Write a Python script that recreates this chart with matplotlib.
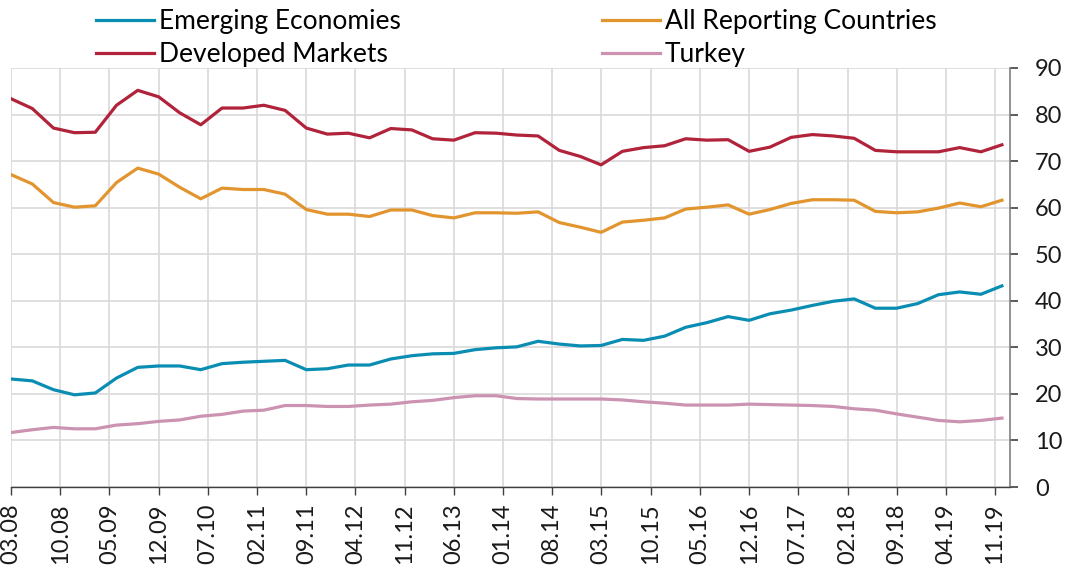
import matplotlib
matplotlib.use("Agg")
import matplotlib.pyplot as plt
import matplotlib.dates as mdates
import numpy as np
import pandas as pd

## Quarterly shares, 03.08 - 12.19
quarters = pd.date_range("2008-03-01", periods=48, freq="3MS")

emerging = [23.2, 22.8, 20.9, 19.8, 20.2, 23.4, 25.7, 26.0, 26.0, 25.2, 26.5, 26.8,
            27.0, 27.2, 25.2, 25.4, 26.2, 26.2, 27.5, 28.2, 28.6, 28.7, 29.5, 29.9,
            30.1, 31.3, 30.7, 30.3, 30.4, 31.7, 31.5, 32.4, 34.3, 35.3, 36.6, 35.8,
            37.2, 38.0, 39.0, 39.9, 40.4, 38.4, 38.4, 39.4, 41.3, 41.9, 41.4, 43.2]

all_reporting = [67.1, 65.1, 61.1, 60.1, 60.4, 65.4, 68.5, 67.2, 64.4, 61.9, 64.2, 63.9,
                 63.9, 62.9, 59.6, 58.6, 58.6, 58.1, 59.5, 59.5, 58.3, 57.8, 58.9, 58.9,
                 58.8, 59.1, 56.8, 55.8, 54.7, 56.9, 57.3, 57.8, 59.7, 60.1, 60.6, 58.6,
                 59.6, 60.9, 61.7, 61.7, 61.6, 59.2, 58.9, 59.1, 59.9, 61.0, 60.2, 61.6]

developed = [83.4, 81.3, 77.1, 76.1, 76.2, 82.0, 85.2, 83.8, 80.4, 77.8, 81.4, 81.4,
             82.0, 80.9, 77.1, 75.8, 76.0, 75.0, 77.0, 76.7, 74.8, 74.5, 76.1, 76.0,
             75.6, 75.4, 72.3, 71.0, 69.2, 72.1, 72.9, 73.3, 74.8, 74.5, 74.6, 72.1,
             73.0, 75.1, 75.7, 75.4, 74.9, 72.3, 72.0, 72.0, 72.0, 72.9, 72.0, 73.5]

turkey = [11.7, 12.3, 12.8, 12.5, 12.5, 13.3, 13.6, 14.1, 14.4, 15.2, 15.6, 16.3,
          16.5, 17.5, 17.5, 17.3, 17.3, 17.6, 17.8, 18.3, 18.6, 19.2, 19.6, 19.6,
          19.0, 18.9, 18.9, 18.9, 18.9, 18.7, 18.3, 18.0, 17.6, 17.6, 17.6, 17.8,
          17.7, 17.6, 17.5, 17.3, 16.8, 16.5, 15.7, 15.0, 14.3, 14.0, 14.3, 14.8]

series_names = ["Emerging Economies", "Developed Markets",
                "All Reporting Countries", "Turkey"]
series_colors = ["#0a8db3", "#b0233a", "#e2952f", "#cc92b2"]

tick_dates = pd.date_range("2008-03-01", "2019-11-01", freq="7MS")
y_ticks = [0, 10, 20, 30, 40, 50, 60, 70, 80, 90]

plt.rcParams["font.family"] = ["Lato", "DejaVu Sans"]

fig = plt.figure(figsize=(10.72, 5.75), dpi=100)
ax = fig.add_axes([11 / 1072, 88 / 575, 999 / 1072, 419 / 575])

for name, values, color in zip(series_names,
                               [emerging, developed, all_reporting, turkey],
                               series_colors):
    ax.plot(quarters, values, color=color, lw=2.3, label=name,
            solid_joinstyle="round")

ax.set_xlim(pd.Timestamp("2008-03-01"), pd.Timestamp("2020-01-05"))
ax.set_ylim(0, 90)
ax.set_xticks(tick_dates)
ax.xaxis.set_major_formatter(mdates.DateFormatter("%m.%y"))
ax.set_yticks(y_ticks)

ax.yaxis.tick_right()
ax.grid(True, color="#d9d9d9", lw=1.2)
ax.set_axisbelow(True)
for side in ["top", "left"]:
    ax.spines[side].set_visible(False)
ax.spines["right"].set_color("#7f7f7f")
ax.spines["right"].set_linewidth(1.2)
ax.spines["bottom"].set_color("#404040")
ax.spines["bottom"].set_linewidth(1.0)

ax.tick_params(axis="x", direction="out", length=6, width=1, color="#404040",
               labelsize=17, rotation=90, pad=6, labelcolor="#1a1a1a")
ax.tick_params(axis="y", direction="out", length=6, width=1.2, color="#404040",
               labelsize=17, pad=12, labelcolor="#1a1a1a")
for lbl in ax.get_yticklabels():
    lbl.set_horizontalalignment("left")

fig.legend(loc="upper left", bbox_to_anchor=(96 / 1072, 1 - 9 / 575), ncol=2,
           frameon=False, fontsize=19, handlelength=2.2, handletextpad=0.2,
           labelspacing=0.32, columnspacing=7.6, borderaxespad=0, borderpad=0)

fig.savefig("out.png", dpi=100)
